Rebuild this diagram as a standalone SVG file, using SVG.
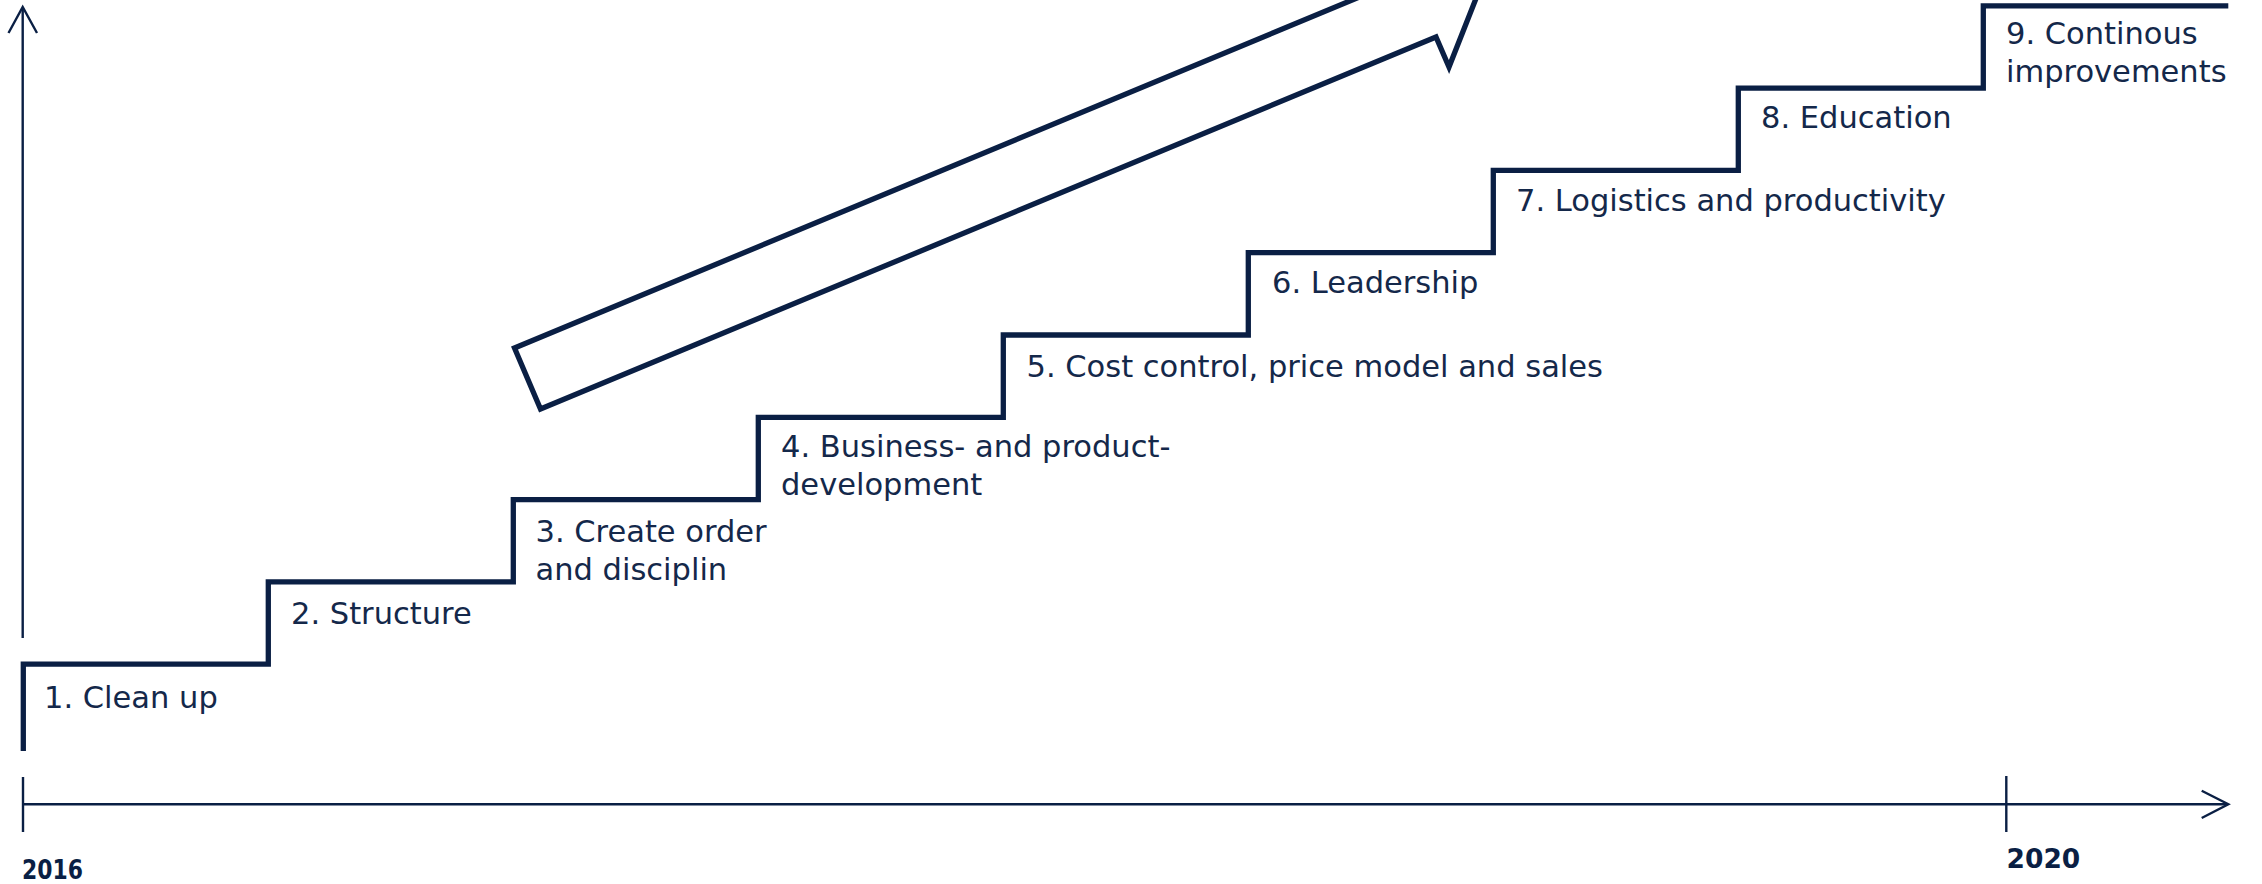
<svg xmlns="http://www.w3.org/2000/svg" width="2262" height="884" viewBox="0 0 2262 884">
<style>
.axis{fill:none;stroke:#0a1f44;stroke-width:2.4;stroke-linecap:butt;stroke-linejoin:miter}
.thick{fill:none;stroke:#0a1f44;stroke-width:5.3;stroke-linecap:butt;stroke-linejoin:miter;stroke-miterlimit:10}
.lbl{font-family:"DejaVu Sans","Liberation Sans",sans-serif;font-size:30.5px;fill:#14284a}
.yr{font-family:"DejaVu Sans","Liberation Sans",sans-serif;font-size:26.5px;font-weight:bold;fill:#0a1f44}
</style>
<rect width="2262" height="884" fill="#ffffff"/>
<g id="connectors">
  <line class="axis" x1="22.7" y1="8" x2="22.7" y2="638"/>
  <polyline class="axis" points="8.5,33 22.7,7 37,33"/>
  <line class="axis" x1="23" y1="804.3" x2="2227" y2="804.3"/>
  <polyline class="axis" points="2201.7,790.7 2228.3,804.3 2201.7,818"/>
  <line class="axis" x1="23" y1="777" x2="23" y2="832"/>
  <line class="axis" x1="2006.3" y1="776" x2="2006.3" y2="832"/>
</g>
<g id="staircase">
  <path class="thick" d="M23.3,751 V664.2 H268.3 V581.9 H513.3 V499.6 H758.3 V417.3 H1003.3 V335 H1248.3 V252.7 H1493.3 V170.4 H1738.3 V88.1 H1983.3 V5.8 H2228.3"/>
</g>
<g id="arrow">
  <polygon class="thick" points="514.5,348 540.5,409 1436,37 1449,67 1482.5,-18 1397,-54 1410,-24"/>
</g>
<g id="step1"><text class="lbl" x="44" y="707.5">1. Clean up</text></g>
<g id="step2"><text class="lbl" x="291" y="623.5">2. Structure</text></g>
<g id="step3"><text class="lbl" x="535.5" y="542">3. Create order</text><text class="lbl" x="535.5" y="580.3">and disciplin</text></g>
<g id="step4"><text class="lbl" x="781" y="456.7">4. Business- and product-</text><text class="lbl" x="781" y="495">development</text></g>
<g id="step5"><text class="lbl" x="1026.5" y="376.5">5. Cost control, price model and sales</text></g>
<g id="step6"><text class="lbl" x="1272" y="293">6. Leadership</text></g>
<g id="step7"><text class="lbl" x="1516" y="210.6">7. Logistics and productivity</text></g>
<g id="step8"><text class="lbl" x="1761" y="128.4">8. Education</text></g>
<g id="step9"><text class="lbl" x="2006" y="44">9. Continous</text><text class="lbl" x="2006" y="82.3">improvements</text></g>
<g id="year2016"><text class="yr" x="22" y="879" textLength="61" lengthAdjust="spacingAndGlyphs">2016</text></g>
<g id="year2020"><text class="yr" x="2006.5" y="868.3">2020</text></g>
</svg>
